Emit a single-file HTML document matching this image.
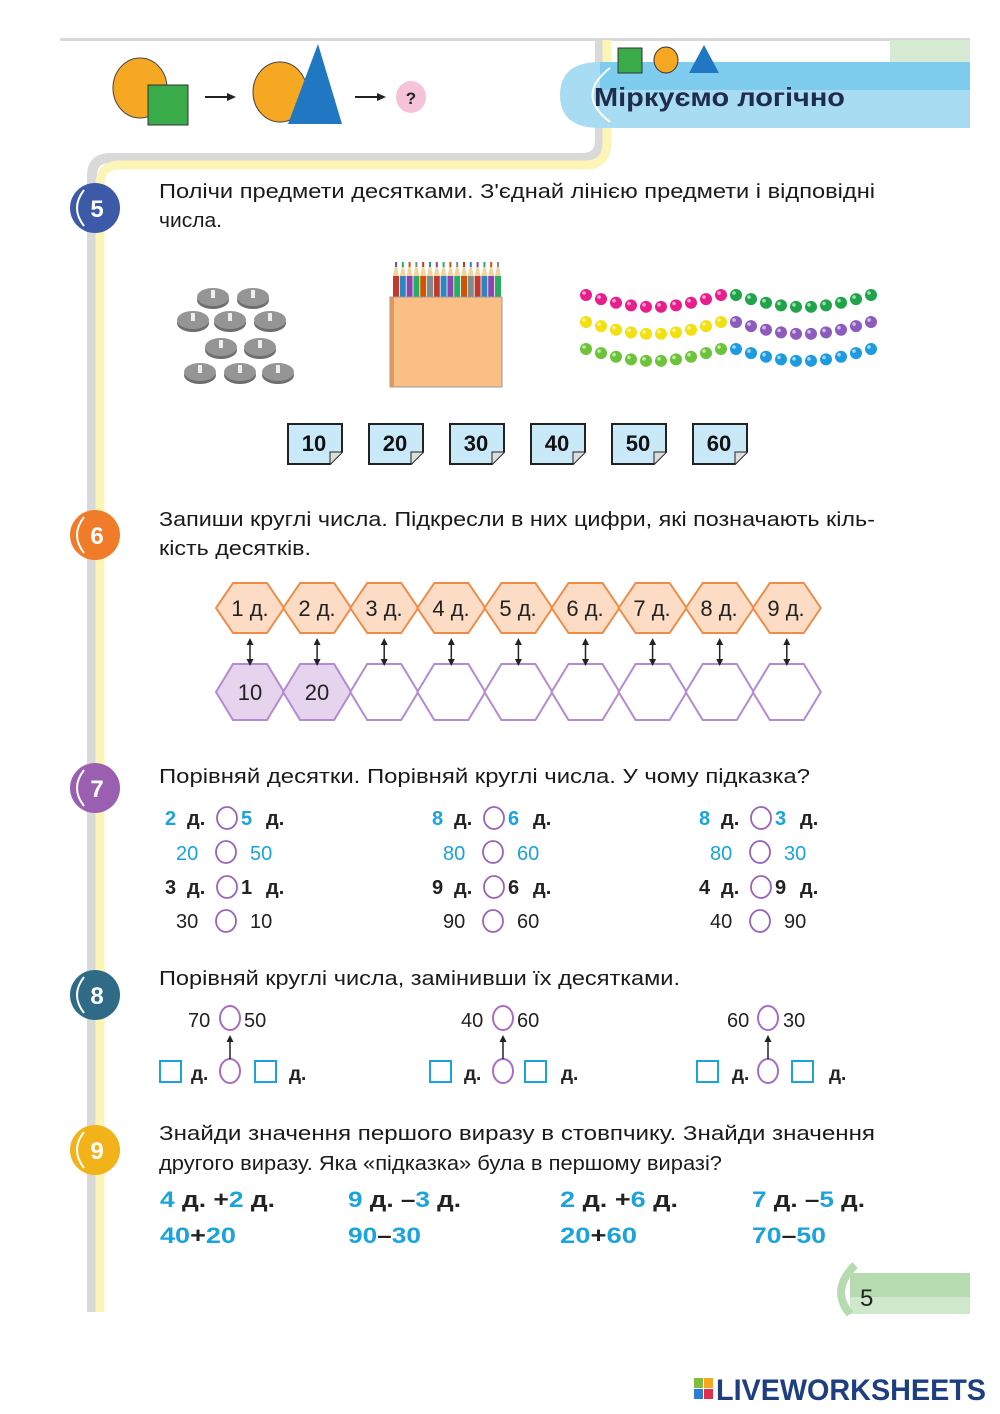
<!DOCTYPE html>
<html><head><meta charset="utf-8"><style>
html,body{margin:0;padding:0;background:#fff;}
svg{display:block;}
text{font-family:"Liberation Sans",sans-serif;}
.t{font-size:20px;fill:#1a1a1a;}
.c{fill:#1aa3dc;}
</style></head><body>
<svg id="s" width="1000" height="1414" viewBox="0 0 1000 1414" xmlns="http://www.w3.org/2000/svg">
<rect x="60" y="38" width="910" height="3" fill="#d8d8d8"/>
<rect x="890" y="40" width="80" height="25" fill="#d7ead4"/>
<path d="M600 40 L600 140 Q600 158 582 158 L110 158 Q92 158 92 176 L92 1312" fill="none" stroke="#d9d9d9" stroke-width="10"/>
<path d="M607 40 L607 142 Q607 165 585 165 L120 165 Q100 165 100 185 L100 1312" fill="none" stroke="#fdf4b8" stroke-width="9"/>
<path d="M600 62 L970 62 L970 128 L600 128 Q560 128 560 95 Q560 62 600 62Z" fill="#a8dcf2"/>
<rect x="600" y="62" width="370" height="28" fill="#7fcdee"/>
<path d="M610 68 Q575 95 610 122" fill="none" stroke="#fff" stroke-width="2"/>
<text x="594" y="106" font-size="26" font-weight="bold" fill="#1f2d4d" textLength="251" lengthAdjust="spacingAndGlyphs">Міркуємо логічно</text>
<rect x="618" y="48" width="24" height="25" fill="#3aab49" stroke="#333" stroke-width="1"/>
<ellipse cx="666" cy="60" rx="12" ry="13" fill="#f7a823" stroke="#333" stroke-width="1"/>
<path d="M704 45 L719 73 L689 73Z" fill="#1f78c1"/>
<ellipse cx="140" cy="88" rx="27" ry="30" fill="#f7a823" stroke="#444" stroke-width="1"/>
<rect x="148" y="85" width="40" height="40" fill="#3aab49" stroke="#333" stroke-width="1"/>
<line x1="205" y1="97" x2="228" y2="97" stroke="#222" stroke-width="2"/><path d="M236 97 L227 93 L227 101Z" fill="#222"/>
<ellipse cx="280" cy="92" rx="27" ry="30" fill="#f7a823" stroke="#444" stroke-width="1"/>
<path d="M318 44 L342 124 L288 124Z" fill="#1f78c1"/>
<line x1="355" y1="97" x2="378" y2="97" stroke="#222" stroke-width="2"/><path d="M386 97 L377 93 L377 101Z" fill="#222"/>
<ellipse cx="411" cy="97" rx="15" ry="16" fill="#f5c2d8"/>
<text x="411" y="104" font-size="17" font-weight="bold" text-anchor="middle" fill="#222">?</text>
<g font-size="24" font-weight="bold" fill="#fff" text-anchor="middle">
<circle cx="95" cy="208" r="25" fill="#3d5aa8"/><path d="M84 190 Q70 208 84 226" stroke="#fff" stroke-width="2" fill="none"/><text x="97" y="217">5</text>
<circle cx="95" cy="535" r="25" fill="#f07c2a"/><path d="M84 517 Q70 535 84 553" stroke="#fff" stroke-width="2" fill="none"/><text x="97" y="544">6</text>
<circle cx="95" cy="788" r="25" fill="#9a5fb0"/><path d="M84 770 Q70 788 84 806" stroke="#fff" stroke-width="2" fill="none"/><text x="97" y="797">7</text>
<circle cx="95" cy="995" r="25" fill="#2f6a86"/><path d="M84 977 Q70 995 84 1013" stroke="#fff" stroke-width="2" fill="none"/><text x="97" y="1004">8</text>
<circle cx="95" cy="1150" r="25" fill="#f2b21a"/><path d="M84 1132 Q70 1150 84 1168" stroke="#fff" stroke-width="2" fill="none"/><text x="97" y="1159">9</text>
</g>
<text class="t" x="159" y="198" textLength="716" lengthAdjust="spacingAndGlyphs">Полічи предмети десятками. З'єднай лінією предмети і відповідні</text>
<text class="t" x="159" y="227" textLength="63" lengthAdjust="spacingAndGlyphs">числа.</text>
<g id="coins"></g>
<g id="pencils"></g>
<rect x="390" y="297" width="112" height="90" fill="#fbbf85" stroke="#999" stroke-width="1"/>
<rect x="390" y="297" width="4" height="90" fill="#d99a66"/>
<g id="beads"></g>
<g font-size="22" font-weight="bold" fill="#111" text-anchor="middle">
<g transform="translate(288,424)"><path d="M0 0 H54 V28 L42 40 H0Z" fill="#c9e8f8" stroke="#222" stroke-width="2"/><path d="M54 28 L42 28 L42 40" fill="#ddd" stroke="#222" stroke-width="1"/><text x="26" y="27">10</text></g>
<g transform="translate(369,424)"><path d="M0 0 H54 V28 L42 40 H0Z" fill="#c9e8f8" stroke="#222" stroke-width="2"/><path d="M54 28 L42 28 L42 40" fill="#ddd" stroke="#222" stroke-width="1"/><text x="26" y="27">20</text></g>
<g transform="translate(450,424)"><path d="M0 0 H54 V28 L42 40 H0Z" fill="#c9e8f8" stroke="#222" stroke-width="2"/><path d="M54 28 L42 28 L42 40" fill="#ddd" stroke="#222" stroke-width="1"/><text x="26" y="27">30</text></g>
<g transform="translate(531,424)"><path d="M0 0 H54 V28 L42 40 H0Z" fill="#c9e8f8" stroke="#222" stroke-width="2"/><path d="M54 28 L42 28 L42 40" fill="#ddd" stroke="#222" stroke-width="1"/><text x="26" y="27">40</text></g>
<g transform="translate(612,424)"><path d="M0 0 H54 V28 L42 40 H0Z" fill="#c9e8f8" stroke="#222" stroke-width="2"/><path d="M54 28 L42 28 L42 40" fill="#ddd" stroke="#222" stroke-width="1"/><text x="26" y="27">50</text></g>
<g transform="translate(693,424)"><path d="M0 0 H54 V28 L42 40 H0Z" fill="#c9e8f8" stroke="#222" stroke-width="2"/><path d="M54 28 L42 28 L42 40" fill="#ddd" stroke="#222" stroke-width="1"/><text x="26" y="27">60</text></g>
</g>
<text class="t" x="159" y="526" textLength="716" lengthAdjust="spacingAndGlyphs">Запиши круглі числа. Підкресли в них цифри, які позначають кіль-</text>
<text class="t" x="159" y="555" textLength="152" lengthAdjust="spacingAndGlyphs">кість десятків.</text>
<g id="hex"></g>
<g font-size="22" fill="#222" text-anchor="middle">
<text x="250" y="616">1 д.</text><text x="317" y="616">2 д.</text><text x="384" y="616">3 д.</text><text x="451" y="616">4 д.</text><text x="518" y="616">5 д.</text><text x="585" y="616">6 д.</text><text x="652" y="616">7 д.</text><text x="719" y="616">8 д.</text><text x="786" y="616">9 д.</text>
<text x="250" y="700">10</text><text x="317" y="700">20</text>
</g>
<text class="t" x="159" y="783" textLength="651" lengthAdjust="spacingAndGlyphs">Порівняй десятки. Порівняй круглі числа. У чому підказка?</text>
<g font-size="20" font-weight="bold" fill="#222">
<text x="165" y="825" class="c">2</text><text x="187" y="825">д.</text><text x="241" y="825" class="c">5</text><text x="266" y="825">д.</text>
<text x="432" y="825" class="c">8</text><text x="454" y="825">д.</text><text x="508" y="825" class="c">6</text><text x="533" y="825">д.</text>
<text x="699" y="825" class="c">8</text><text x="721" y="825">д.</text><text x="775" y="825" class="c">3</text><text x="800" y="825">д.</text>
<text x="165" y="894">3</text><text x="187" y="894">д.</text><text x="241" y="894">1</text><text x="266" y="894">д.</text>
<text x="432" y="894">9</text><text x="454" y="894">д.</text><text x="508" y="894">6</text><text x="533" y="894">д.</text>
<text x="699" y="894">4</text><text x="721" y="894">д.</text><text x="775" y="894">9</text><text x="800" y="894">д.</text>
</g>
<g font-size="20" fill="#222">
<text x="176" y="860" class="c">20</text><text x="250" y="860" class="c">50</text>
<text x="443" y="860" class="c">80</text><text x="517" y="860" class="c">60</text>
<text x="710" y="860" class="c">80</text><text x="784" y="860" class="c">30</text>
<text x="176" y="928">30</text><text x="250" y="928">10</text>
<text x="443" y="928">90</text><text x="517" y="928">60</text>
<text x="710" y="928">40</text><text x="784" y="928">90</text>
</g>
<g fill="none" stroke="#9a63b8" stroke-width="1.8">
<ellipse cx="227" cy="818" rx="10" ry="11"/><ellipse cx="494" cy="818" rx="10" ry="11"/><ellipse cx="761" cy="818" rx="10" ry="11"/>
<ellipse cx="226" cy="852" rx="10" ry="11"/><ellipse cx="493" cy="852" rx="10" ry="11"/><ellipse cx="760" cy="852" rx="10" ry="11"/>
<ellipse cx="227" cy="887" rx="10" ry="11"/><ellipse cx="494" cy="887" rx="10" ry="11"/><ellipse cx="761" cy="887" rx="10" ry="11"/>
<ellipse cx="226" cy="921" rx="10" ry="11"/><ellipse cx="493" cy="921" rx="10" ry="11"/><ellipse cx="760" cy="921" rx="10" ry="11"/>
</g>
<text class="t" x="159" y="985" textLength="521" lengthAdjust="spacingAndGlyphs">Порівняй круглі числа, замінивши їх десятками.</text>
<g id="s8"></g>
<g font-size="20" fill="#222">
<text x="188" y="1027">70</text><text x="244" y="1027">50</text>
<text x="461" y="1027">40</text><text x="517" y="1027">60</text>
<text x="727" y="1027">60</text><text x="783" y="1027">30</text>
</g>
<g font-size="19" font-weight="bold" fill="#222">
<text x="191" y="1080">д.</text><text x="289" y="1080">д.</text>
<text x="464" y="1080">д.</text><text x="561" y="1080">д.</text>
<text x="732" y="1080">д.</text><text x="829" y="1080">д.</text>
</g>
<text class="t" x="159" y="1140" textLength="716" lengthAdjust="spacingAndGlyphs">Знайди значення першого виразу в стовпчику. Знайди значення</text>
<text class="t" x="159" y="1170" textLength="563" lengthAdjust="spacingAndGlyphs">другого виразу. Яка «підказка» була в першому виразі?</text>
<g font-size="22" font-weight="bold" fill="#222">
<text x="160" y="1207" textLength="115" lengthAdjust="spacingAndGlyphs"><tspan class="c">4</tspan> д. +<tspan class="c">2</tspan> д.</text>
<text x="348" y="1207" textLength="113" lengthAdjust="spacingAndGlyphs"><tspan class="c">9</tspan> д. –<tspan class="c">3</tspan> д.</text>
<text x="560" y="1207" textLength="118" lengthAdjust="spacingAndGlyphs"><tspan class="c">2</tspan> д. +<tspan class="c">6</tspan> д.</text>
<text x="752" y="1207" textLength="113" lengthAdjust="spacingAndGlyphs"><tspan class="c">7</tspan> д. –<tspan class="c">5</tspan> д.</text>
<text x="160" y="1243" textLength="76" lengthAdjust="spacingAndGlyphs"><tspan class="c">40</tspan>+<tspan class="c">20</tspan></text>
<text x="348" y="1243" textLength="73" lengthAdjust="spacingAndGlyphs"><tspan class="c">90</tspan>–<tspan class="c">30</tspan></text>
<text x="560" y="1243" textLength="77" lengthAdjust="spacingAndGlyphs"><tspan class="c">20</tspan>+<tspan class="c">60</tspan></text>
<text x="752" y="1243" textLength="74" lengthAdjust="spacingAndGlyphs"><tspan class="c">70</tspan>–<tspan class="c">50</tspan></text>
</g>
<rect x="850" y="1273" width="120" height="24" fill="#b6dbb0"/>
<rect x="850" y="1297" width="120" height="17" fill="#cfe7ca"/>
<path d="M855 1265 Q830 1290 850 1314" fill="none" stroke="#b6dbb0" stroke-width="8"/>
<text x="860" y="1306" font-size="24" fill="#222">5</text>
<rect x="694" y="1378" width="9" height="10" fill="#7fbf3f"/><rect x="704" y="1378" width="9" height="10" fill="#f7a823"/>
<rect x="694" y="1389" width="9" height="10" fill="#2a7fd4"/><rect x="704" y="1389" width="9" height="10" fill="#e52e4d"/>
<text x="716" y="1400" font-size="30" font-weight="bold" fill="#1d3f82" textLength="270" lengthAdjust="spacingAndGlyphs">LIVEWORKSHEETS</text>
</svg>
<script>
var NS="http://www.w3.org/2000/svg";
function el(p,t,a){var e=document.createElementNS(NS,t);for(var k in a)e.setAttribute(k,a[k]);document.getElementById(p).appendChild(e);return e;}
[[213,297],[253,297],[193,320],[230,320],[270,320],[221,347],[260,347],[200,372],[240,372],[278,372]].forEach(function(c){
el("coins","ellipse",{cx:c[0],cy:c[1]+3,rx:16,ry:9,fill:"#6e6e6e"});
el("coins","ellipse",{cx:c[0],cy:c[1],rx:16,ry:9,fill:"#959595"});
el("coins","rect",{x:c[0]-2,y:c[1]-7,width:4,height:8,fill:"#eee"});
});
var pc=["#c0392b","#2e86c1","#8e44ad","#27ae60","#d35400","#7f8c8d"];
for(var i=0;i<16;i++){var x=393+i*6.8;
el("pencils","rect",{x:x,y:276,width:6,height:22,fill:pc[i%6]});
el("pencils","path",{d:"M"+x+" 276 L"+(x+3)+" 262 L"+(x+6)+" 276Z",fill:"#f1d3a1"});
el("pencils","rect",{x:x+2,y:262,width:2,height:5,fill:pc[(i+2)%6]});}
var strings=[[580,295,"#e91e8c"],[580,322,"#f2e010"],[580,349,"#6dc33a"],[730,295,"#1fa44a"],[730,322,"#8c5bbd"],[730,349,"#1d9be0"]];
strings.forEach(function(s){for(var i=0;i<10;i++){var x=s[0]+6+i*15,y=s[1]+12*Math.sin(Math.PI*i/9);
el("beads","circle",{cx:x,cy:y,r:6,fill:s[2]});el("beads","circle",{cx:x-2,cy:y-2,r:1.8,fill:"#fff","fill-opacity":.6});}});
function hex(cx,cy,w,h,fill,stroke){var a=w/2,q=w/4,b=h/2;
el("hex","path",{d:"M"+(cx-a)+" "+cy+" L"+(cx-q)+" "+(cy-b)+" L"+(cx+q)+" "+(cy-b)+" L"+(cx+a)+" "+cy+" L"+(cx+q)+" "+(cy+b)+" L"+(cx-q)+" "+(cy+b)+"Z",fill:fill,stroke:stroke,"stroke-width":2});}
for(var i=0;i<9;i++){var cx=250+i*67.1;
hex(cx,608,68,50,"#fcdcc4","#f08b48");
hex(cx,692,68,56,i<2?"#e6d3ee":"#fff","#b48ad0");
el("hex","line",{x1:cx,y1:642,x2:cx,y2:662,stroke:"#222","stroke-width":1.5});
el("hex","path",{d:"M"+cx+" 638 l-3.5 7 h7Z",fill:"#222"});
el("hex","path",{d:"M"+cx+" 666 l-3.5 -7 h7Z",fill:"#222"});}
[[160,230],[430,503],[697,768]].forEach(function(p){var x=p[0],c=p[1];
el("s8","rect",{x:x,y:1061,width:21,height:21,fill:"none",stroke:"#1aa3dc","stroke-width":2});
el("s8","rect",{x:x+95,y:1061,width:21,height:21,fill:"none",stroke:"#1aa3dc","stroke-width":2});
el("s8","ellipse",{cx:c,cy:1071,rx:10,ry:12,fill:"none",stroke:"#a86cc4","stroke-width":2});
el("s8","ellipse",{cx:c,cy:1018,rx:10,ry:12,fill:"none",stroke:"#a86cc4","stroke-width":2});
el("s8","line",{x1:c,y1:1059,x2:c,y2:1040,stroke:"#222","stroke-width":1.5});
el("s8","path",{d:"M"+c+" 1035 l-3.5 7 h7Z",fill:"#222"});});
</script>
</body></html>
